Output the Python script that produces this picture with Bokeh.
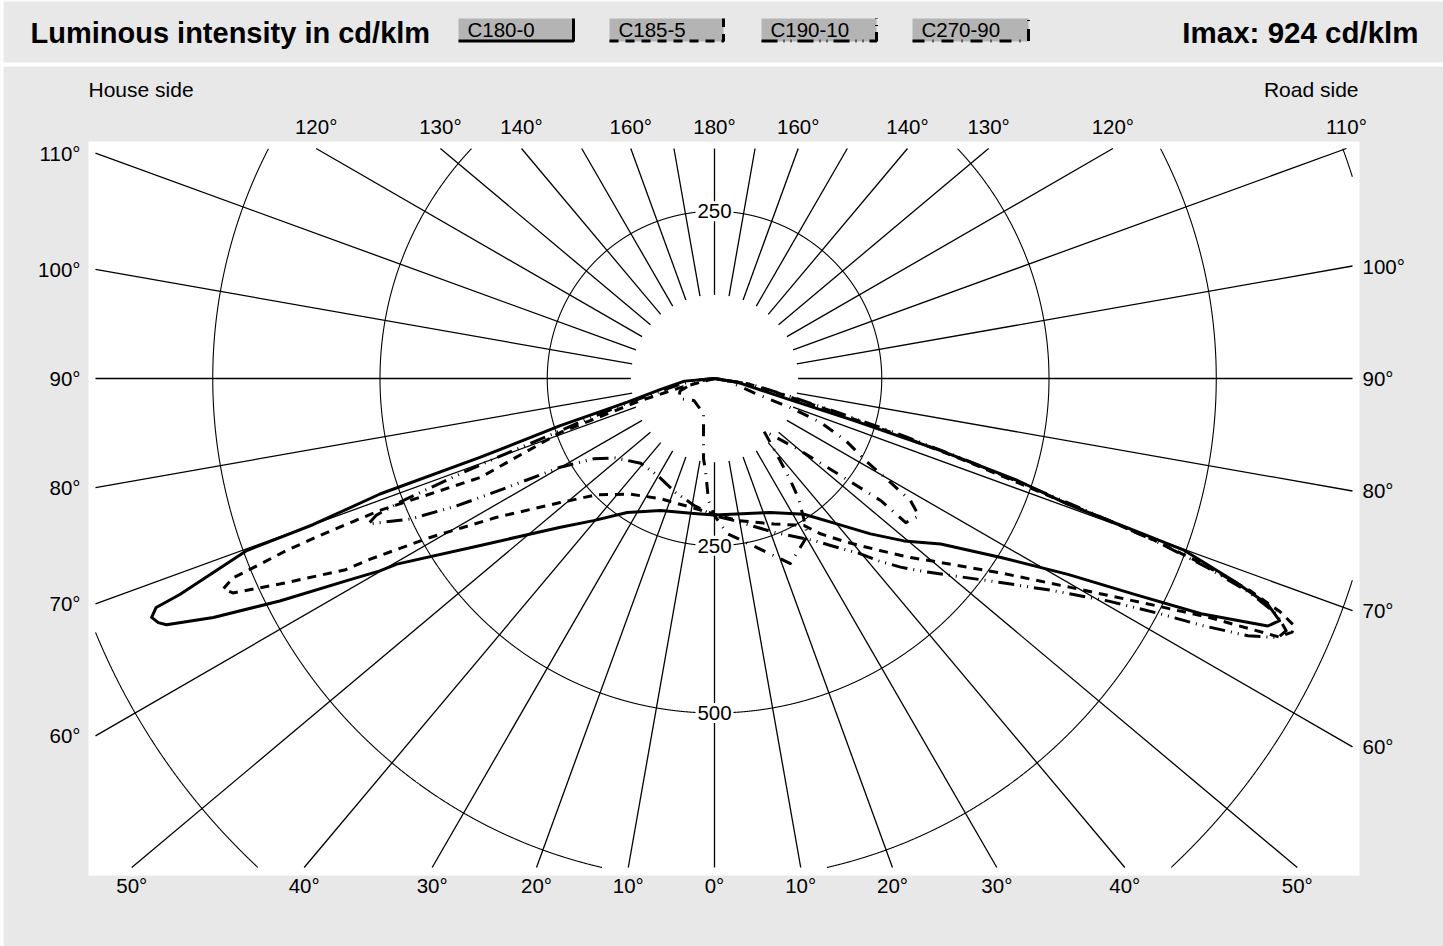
import numpy as np
from bokeh.plotting import figure
from bokeh.models import Range1d
from bokeh.core.properties import value
from bokeh.embed import file_html
from bokeh.resources import INLINE

# ---------------- data ----------------
TITLE = "Luminous intensity in cd/klm"
IMAX_TEXT = "Imax: 924 cd/klm"
SIDE_LEFT = "House side"
SIDE_RIGHT = "Road side"
SERIES = ["C180-0", "C185-5", "C190-10", "C270-90"]

GRID_CD = [250, 500, 750, 1000]
RAY_ANGLES = [0, 10, 20, 30, 40, 50, 60, 70, 80, 90, 100, 110, 120, 130, 140, 150, 160, 170, 180]
RAY_LABELS = [0, 10, 20, 30, 40, 50, 60, 70, 80, 90, 100, 110, 120, 130, 140, 160, 180]

# left half-planes (house side) and right half-planes (road side): gamma (deg), cd/klm
C180_GAMMA = [0, 8.7, 15.6, 22.2, 33.1, 40.4, 46, 49.8, 54.5, 59.7, 60.1, 61.2, 62.9, 64.5, 65.8, 66.3, 67.0, 67.7, 68.0, 69.8, 70.0, 70.95, 71.4, 73.0, 74.8, 78.5, 85, 90]
C180_CD = [204, 204, 207, 213, 239, 279, 320, 360, 430, 550, 577, 627, 730, 830, 898, 908, 914, 902, 862, 745, 638, 529, 370, 241, 135, 82, 45, 0]
C0_GAMMA = [0, 22.7, 33.4, 40.2, 45.1, 49.4, 53.8, 58, 61, 62.8, 64.2, 65.9, 66.8, 67.8, 68.7, 69.9, 70.1, 70.4, 71.4, 72.3, 73.2, 74.4, 80.7, 90]
C0_CD = [204, 217, 243, 285, 329, 373, 419, 505, 604, 706, 808, 906, 919, 893, 834, 748, 668, 560, 478, 355, 218, 113, 34, 0]

C185_GAMMA = [0, 9.1, 16.7, 24.3, 36.1, 45.3, 51.2, 57.5, 60.8, 62.3, 62.6, 64.7, 66.0, 66.8, 67.5, 67.7, 68.1, 68.3, 68.4, 68.5, 67.9, 67.1, 70.7, 71.3, 73.4, 75, 90]
C185_CD = [203, 196, 195, 197, 214, 247, 296, 386, 487, 580, 621, 719, 788, 799, 779, 745, 690, 635, 581, 539, 459, 380, 244, 196, 115, 53, 0]
C5_GAMMA = [0, 9.1, 22.2, 31.3, 34.3, 39, 44, 47.6, 49.9, 55.8, 59.6, 62.3, 64.2, 65.4, 66.3, 66.9, 67.6, 68.4, 69.2, 69.8, 70.2, 70.6, 71.2, 72, 73, 74.5, 77, 81, 90]
C5_CD = [203, 215, 235, 257, 281, 315, 358, 397, 423, 517, 617, 720, 820, 928, 943, 942, 914, 860, 780, 700, 620, 540, 460, 380, 280, 180, 100, 50, 0]

C190_GAMMA = [0, 9.3, 18.9, 30.6, 41.1, 51.3, 56.4, 60.1, 60.75, 62.4, 63.7, 65.2, 67.2, 68, 68.6, 69, 69.5, 70.2, 71, 72.3, 74, 76, 80, 85, 90]
C190_CD = [205, 192, 180, 168, 168, 190, 217, 266, 287, 356, 430, 501, 561, 545, 500, 450, 400, 330, 260, 200, 140, 95, 55, 30, 0]
C10_GAMMA = [0, 7.6, 21, 31.5, 34.8, 39.8, 41.8, 44.6, 47.7, 54.5, 57.8, 60.5, 62.2, 63.1, 64.25, 65.3, 66.2, 67.3, 68.2, 69, 69.7, 70.2, 70.7, 71.3, 72.1, 73.2, 74.6, 77, 81, 90]
C10_CD = [205, 214, 246, 284, 304, 341, 365, 396, 430, 525, 594, 675, 755, 815, 885, 927, 934, 910, 860, 790, 710, 630, 550, 470, 390, 290, 190, 110, 55, 0]

C270_GAMMA = [0, 2.8, 5.6, 7.8, 17.4, 43.3, 60.4, 70, 80, 90]
C270_CD = [205, 183, 138, 121, 55, 45, 61, 55, 30, 0]
C90_GAMMA = [0, 4.8, 13.1, 22.3, 30.6, 32.6, 35, 36.7, 39, 43.3, 50, 52.4, 53.7, 53, 56.1, 58.1, 59.4, 61.5, 64.7, 67.5, 69, 70, 80, 90]
C90_CD = [205, 233, 257, 299, 273, 247, 219, 190, 152, 107, 168, 238, 308, 358, 368, 345, 306, 257, 217, 172, 122, 62, 20, 0]

CURVES = [
    (C180_GAMMA, C180_CD, C0_GAMMA, C0_CD),
    (C185_GAMMA, C185_CD, C5_GAMMA, C5_CD),
    (C190_GAMMA, C190_CD, C10_GAMMA, C10_CD),
    (C270_GAMMA, C270_CD, C90_GAMMA, C90_CD),
]

# ---------------- styles / layout ----------------
DASHES = ["solid", "9 7", "16 6 1 6 1 6", "12 8 1 8"]
BG = "#e8e8e8"
BOX = "#b4b4b4"
FONT = value("Liberation Sans")

W, H = 1443, 946
S = 0.669                  # px per cd/klm
CX, CY = 714, 378          # pole position (px)


def X(px):
    return (px - CX) / S


def Y(py):
    return (CY - py) / S


CLIP = (X(95), X(1352), Y(867), Y(148))   # xmin, xmax, ymin, ymax
R0 = 125                                    # rays start radius

p = figure(width=W, height=H, x_range=Range1d(X(0), X(W)),
           y_range=Range1d(Y(H), Y(0)),
           x_axis_type=None, y_axis_type=None,
           toolbar_location=None, output_backend="svg", min_border=0,
           background_fill_color=BG, border_fill_color=BG,
           outline_line_color=None)
p.grid.visible = False

# page edges, header separator and plot area
p.quad(left=[X(-5)], right=[X(1450)], top=[Y(-5)], bottom=[Y(1)], fill_color="white", line_color=None)
p.quad(left=[X(-5)], right=[X(3)], top=[Y(-5)], bottom=[Y(950)], fill_color="white", line_color=None)
p.quad(left=[X(-5)], right=[X(1450)], top=[Y(62)], bottom=[Y(66)],
       fill_color="white", line_color=None)
p.quad(left=[X(88)], right=[X(1359)], top=[Y(141)], bottom=[Y(875)],
       fill_color="white", line_color=None)

# ---- polar grid: circles ----
xmin, xmax, ymin, ymax = CLIP
cxs, cys = [], []
t = np.radians(np.arange(0, 360.0001, 0.05))
for r in GRID_CD:
    x = r * np.cos(t)
    y = r * np.sin(t)
    inside = (x >= xmin) & (x <= xmax) & (y >= ymin) & (y <= ymax)
    idx = np.where(inside)[0]
    if len(idx) == 0:
        continue
    runs = np.split(idx, np.where(np.diff(idx) != 1)[0] + 1)
    if len(runs) > 1 and runs[0][0] == 0 and runs[-1][-1] == len(t) - 1:
        runs[0] = np.concatenate([runs[-1], runs[0]])
        runs = runs[:-1]
    for run in runs:
        cxs.append(list(x[run]))
        cys.append(list(y[run]))
p.multi_line(cxs, cys, line_color="black", line_width=1.1)

# ---- rays + angle labels ----
rxs, rys = [], []
lab = {"top": ([], [], []), "bottom": ([], [], []), "left": ([], [], []), "right": ([], [], [])}
for a in RAY_ANGLES:
    sides = [1] if a in (0, 180) else [-1, 1]
    for sd in sides:
        ux = sd * np.sin(np.radians(a))
        uy = -np.cos(np.radians(a))
        cands = []
        if ux > 1e-9:
            cands.append((xmax / ux, "right"))
        if ux < -1e-9:
            cands.append((xmin / ux, "left"))
        if uy > 1e-9:
            cands.append((ymax / uy, "top"))
        if uy < -1e-9:
            cands.append((ymin / uy, "bottom"))
        tt, edge = min(cands)
        rxs.append([R0 * ux, tt * ux])
        rys.append([R0 * uy, tt * uy])
        if a in RAY_LABELS:
            ex, ey = tt * ux, tt * uy
            if edge == "top":
                lab["top"][0].append(ex); lab["top"][1].append(Y(126))
            elif edge == "bottom":
                lab["bottom"][0].append(ex); lab["bottom"][1].append(Y(885))
            elif edge == "left":
                lab["left"][0].append(X(80)); lab["left"][1].append(ey)
            else:
                lab["right"][0].append(X(1362)); lab["right"][1].append(ey)
            lab[edge][2].append(f"{a}°")
p.multi_line(rxs, rys, line_color="black", line_width=1.3)

for edge, align in (("top", "center"), ("bottom", "center"), ("left", "right"), ("right", "left")):
    xs_, ys_, tx_ = lab[edge]
    p.text(x=xs_, y=ys_, text=tx_, text_font=FONT, text_font_size="20.5px",
           text_align=align, text_baseline="middle", text_color="black")

# ---- ring labels ----
rl_x, rl_y, rl_t = [], [], []
for r in GRID_CD:
    for yy in (r, -r):
        if ymin <= yy <= ymax:
            rl_x.append(0.0); rl_y.append(yy); rl_t.append(str(r))
p.rect(x=rl_x, y=rl_y, width=38, height=20, width_units="screen", height_units="screen",
       fill_color="white", line_color=None)
p.text(x=rl_x, y=rl_y, text=rl_t, text_font=FONT, text_font_size="20.5px",
       text_align="center", text_baseline="middle", text_color="black")

# ---- side captions ----
p.text(x=[X(88)], y=[Y(89)], text=[SIDE_LEFT], text_font=FONT, text_font_size="21px",
       text_align="left", text_baseline="middle", text_color="black")
p.text(x=[X(1358)], y=[Y(89)], text=[SIDE_RIGHT], text_font=FONT, text_font_size="21px",
       text_align="right", text_baseline="middle", text_color="black")

# ---- intensity curves ----


def half(g, c, sd):
    g = np.radians(np.asarray(g, float))
    c = np.asarray(c, float)
    return sd * c * np.sin(g), -c * np.cos(g)


for (gl, cl, gr, cr), dash in zip(CURVES, DASHES):
    xl, yl = half(gl, cl, -1)
    xr, yr = half(gr, cr, 1)
    xx = np.concatenate([xl[::-1], xr])
    yy = np.concatenate([yl[::-1], yr])
    p.line(xx, yy, line_color="black", line_width=3, line_dash=dash,
           line_join="round", line_cap="butt")

# ---- header: title, legend, Imax ----
p.text(x=[X(30)], y=[Y(32)], text=[TITLE], text_font=FONT, text_font_size="29px",
       text_font_style="bold", text_align="left", text_baseline="middle", text_color="black")
p.text(x=[X(1418)], y=[Y(32)], text=[IMAX_TEXT], text_font=FONT, text_font_size="29.5px",
       text_font_style="bold", text_align="right", text_baseline="middle", text_color="black")

BOXES = [(458, 573), (609, 723), (761, 876), (912, 1028)]
for (x0, x1), name, dash in zip(BOXES, SERIES, DASHES):
    p.quad(left=[X(x0)], right=[X(x1)], top=[Y(18)], bottom=[Y(41)], fill_color=BOX, line_color=None)
    p.text(x=[X(x0 + 9)], y=[Y(29)], text=[name], text_font=FONT, text_font_size="20.5px",
           text_align="left", text_baseline="middle", text_color="black")
    p.line([X(x0), X(x1), X(x1)], [Y(40.5), Y(40.5), Y(18)], line_color="black",
           line_width=3, line_dash=dash, line_cap="butt")

open("out.html", "w").write(file_html(p, INLINE))
